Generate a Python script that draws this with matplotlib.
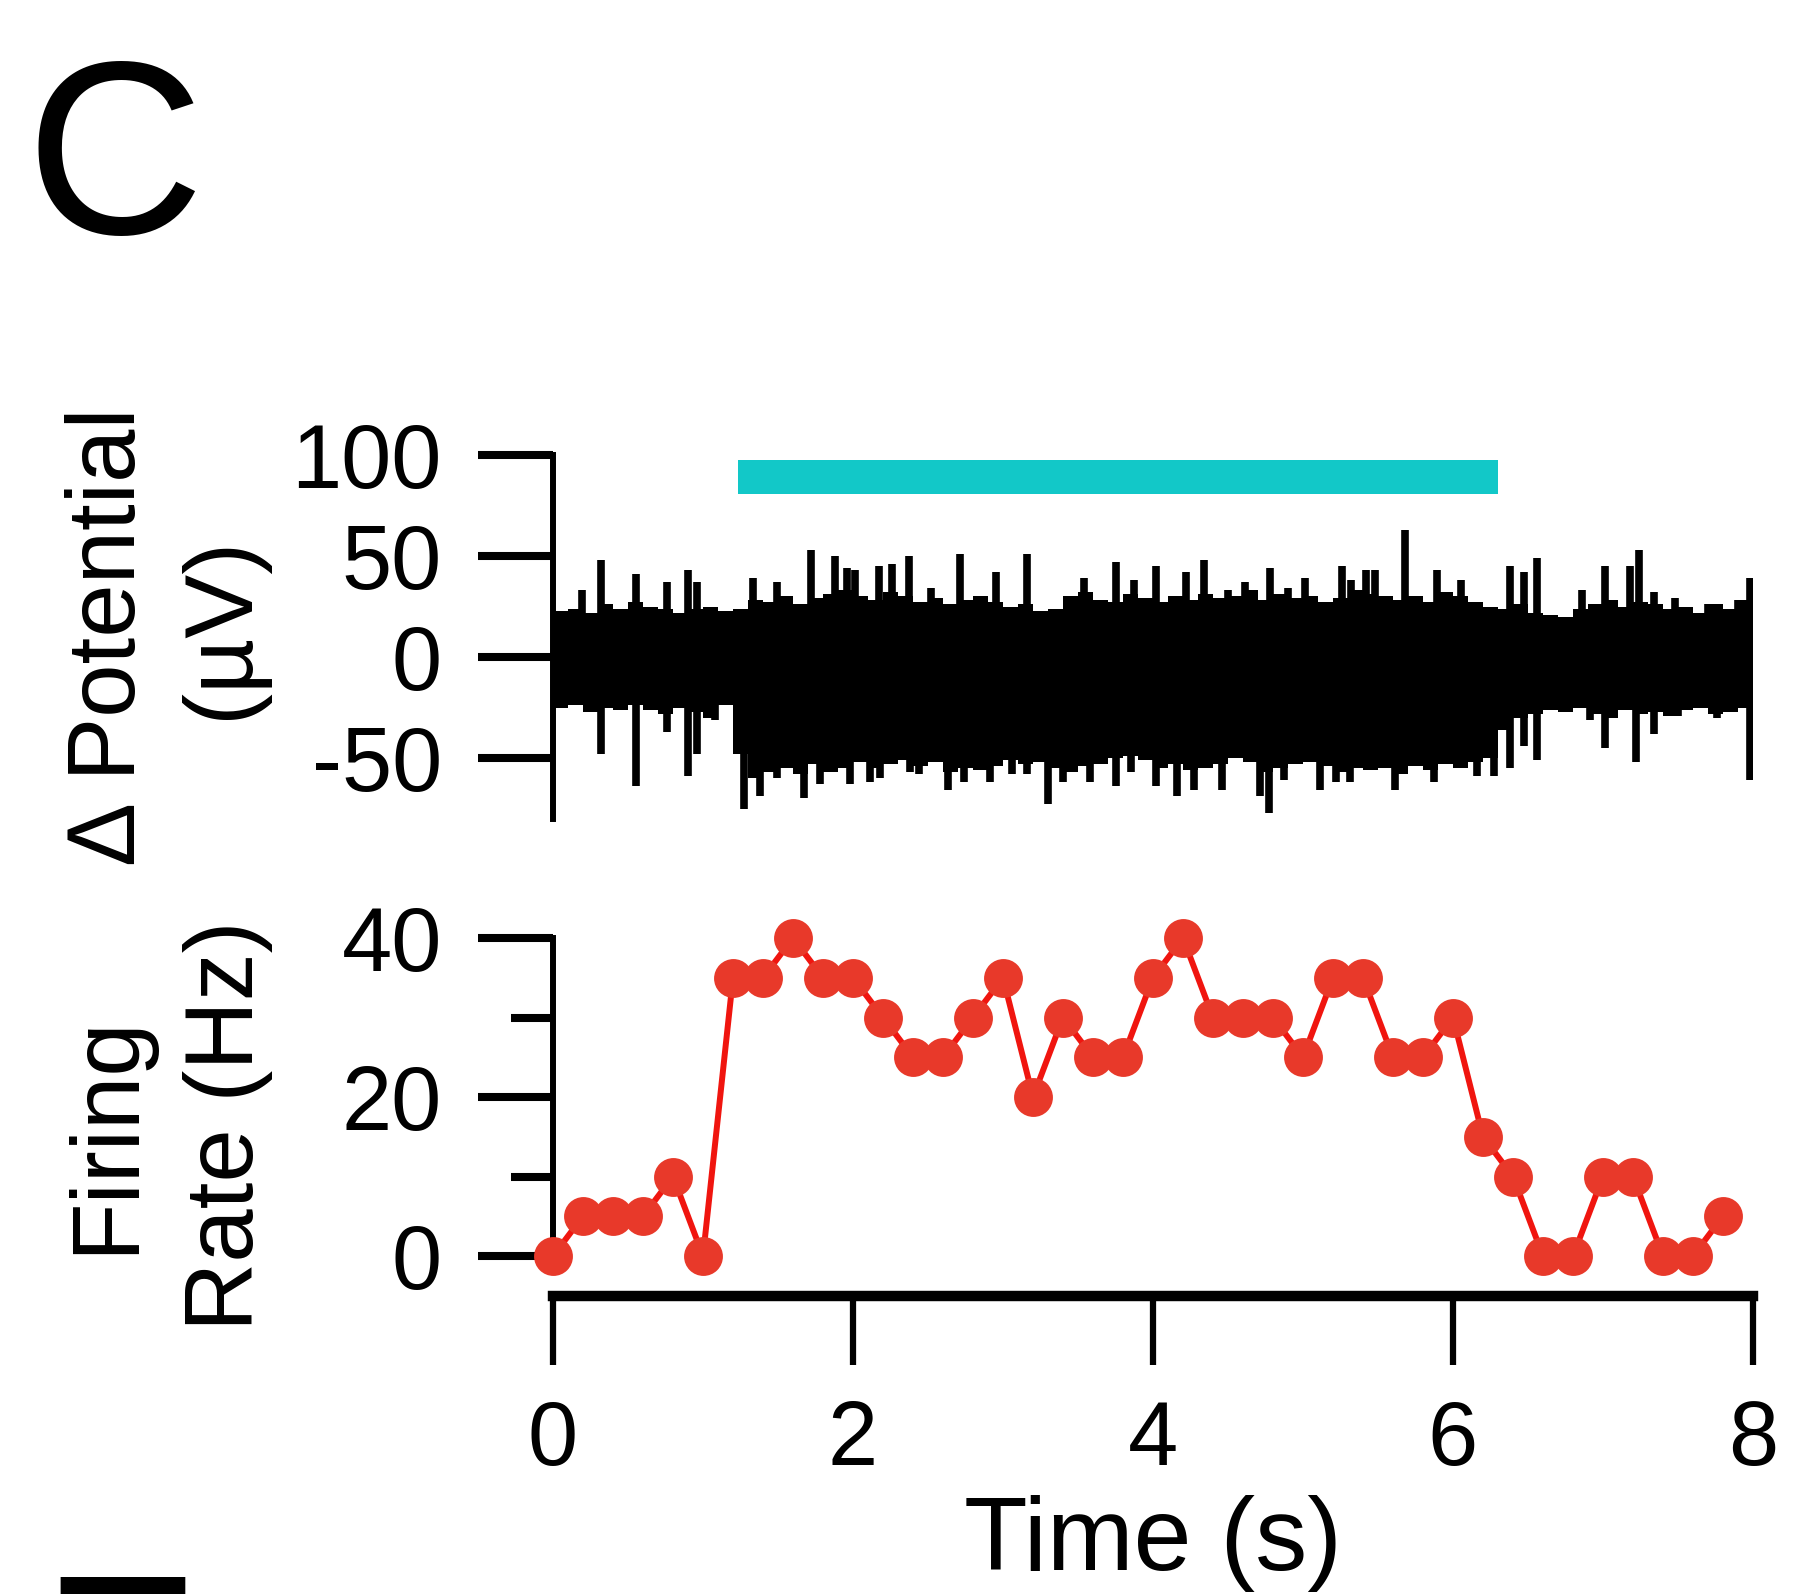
import numpy as np
import matplotlib
matplotlib.use('Agg')
import matplotlib.pyplot as plt

plt.rcParams['font.family'] = ['Liberation Sans', 'DejaVu Sans']

# ---------------- data ----------------
# Firing rate (Hz) in 0.2 s bins
rate_t = [0.0, 0.2, 0.4, 0.6, 0.8, 1.0, 1.2, 1.4, 1.6, 1.8,
          2.0, 2.2, 2.4, 2.6, 2.8, 3.0, 3.2, 3.4, 3.6, 3.8,
          4.0, 4.2, 4.4, 4.6, 4.8, 5.0, 5.2, 5.4, 5.6, 5.8,
          6.0, 6.2, 6.4, 6.6, 6.8, 7.0, 7.2, 7.4, 7.6, 7.8]
rate_hz = [0, 5, 5, 5, 10, 0, 35, 35, 40, 35,
           35, 30, 25, 25, 30, 35, 20, 30, 25, 25,
           35, 40, 30, 30, 30, 25, 35, 35, 25, 25,
           30, 15, 10, 0, 0, 10, 10, 0, 0, 5]

# Stimulus period (s)
stim_on = 1.23
stim_off = 6.30

# Potential trace: dense body envelope in 0.1 s bins (uV)
body_t = [0.0, 0.1, 0.2, 0.3, 0.4, 0.5, 0.6, 0.7, 0.8, 0.9,
          1.0, 1.1, 1.2, 1.3, 1.4, 1.5, 1.6, 1.7, 1.8, 1.9,
          2.0, 2.1, 2.2, 2.3, 2.4, 2.5, 2.6, 2.7, 2.8, 2.9,
          3.0, 3.1, 3.2, 3.3, 3.4, 3.5, 3.6, 3.7, 3.8, 3.9,
          4.0, 4.1, 4.2, 4.3, 4.4, 4.5, 4.6, 4.7, 4.8, 4.9,
          5.0, 5.1, 5.2, 5.3, 5.4, 5.5, 5.6, 5.7, 5.8, 5.9,
          6.0, 6.1, 6.2, 6.3, 6.4, 6.5, 6.6, 6.7, 6.8, 6.9,
          7.0, 7.1, 7.2, 7.3, 7.4, 7.5, 7.6, 7.7, 7.8, 7.9]
body_hi = [23, 24, 22, 26, 24, 27, 25, 24, 22, 24,
           25, 23, 24, 28, 27, 30, 26, 29, 31, 33,
           30, 28, 32, 30, 27, 29, 26, 28, 30, 27,
           25, 26, 23, 24, 30, 32, 28, 27, 31, 29,
           27, 30, 28, 31, 29, 30, 33, 28, 31, 29,
           30, 27, 29, 33, 31, 30, 28, 30, 27, 32,
           30, 27, 25, 24, 26, 22, 21, 20, 24, 26,
           28, 25, 27, 26, 24, 25, 22, 26, 24, 28]
body_lo = [-25, -24, -27, -25, -26, -24, -26, -28, -25, -27,
           -30, -24, -48, -60, -57, -55, -58, -53, -57, -55,
           -52, -55, -53, -51, -54, -52, -57, -55, -56, -54,
           -51, -53, -52, -55, -57, -54, -53, -50, -49, -51,
           -55, -53, -56, -55, -53, -50, -52, -57, -55, -53,
           -52, -54, -57, -55, -56, -55, -58, -54, -56, -53,
           -55, -52, -50, -36, -30, -28, -26, -27, -25, -28,
           -30, -26, -28, -27, -29, -26, -25, -28, -27, -25]

# Individual upward spikes (time s, peak uV)
up_t = [0.19, 0.32, 0.55, 0.76, 0.90, 0.96, 1.33, 1.49, 1.72, 1.88,
        1.96, 2.01, 2.17, 2.26, 2.37, 2.52, 2.71, 2.95, 3.16, 3.54,
        3.75, 3.87, 4.02, 4.22, 4.34, 4.50, 4.61, 4.78, 4.90, 5.01,
        5.26, 5.32, 5.42, 5.48, 5.68, 5.89, 6.05, 6.38, 6.47, 6.56,
        6.86, 7.01, 7.18, 7.24, 7.34, 7.48, 7.70, 7.90, 7.98]
up_v = [33, 48, 41, 37, 43, 37, 39, 37, 53, 50,
        44, 43, 45, 46, 50, 34, 51, 42, 51, 39,
        47, 38, 45, 42, 48, 33, 37, 44, 34, 39,
        45, 38, 43, 43, 63, 43, 38, 45, 42, 49,
        33, 45, 45, 53, 32, 29, 26, 28, 39]

# Individual downward spikes (time s, trough uV)
dn_t = [0.32, 0.55, 0.76, 0.90, 0.96, 1.08, 1.27, 1.38, 1.49, 1.67,
        1.78, 1.98, 2.11, 2.18, 2.38, 2.44, 2.63, 2.74, 2.91, 3.06,
        3.16, 3.30, 3.40, 3.58, 3.75, 3.85, 4.02, 4.16, 4.27, 4.46,
        4.71, 4.77, 4.87, 5.11, 5.22, 5.31, 5.61, 5.87, 6.16, 6.27,
        6.38, 6.47, 6.56, 6.91, 7.01, 7.22, 7.34, 7.50, 7.76, 7.98]
dn_v = [-48, -64, -37, -59, -48, -31, -75, -69, -60, -70,
        -63, -63, -62, -60, -57, -58, -66, -62, -62, -58,
        -58, -73, -62, -62, -64, -57, -64, -69, -66, -66,
        -69, -77, -61, -66, -62, -62, -66, -62, -59, -59,
        -55, -44, -51, -31, -45, -52, -38, -29, -30, -61]

pot_ticks = [-50, 0, 50, 100]
rate_major = [0, 20, 40]
rate_minor = [10, 30]
time_ticks = [0, 2, 4, 6, 8]

# ---------------- figure ----------------
W, H = 1793, 1594
fig = plt.figure(figsize=(W / 100, H / 100), dpi=100)

def fx(px):
    return px / W

def fy(py):
    return 1 - py / H

left = fx(553)
width = fx(1753) - left

ax1 = fig.add_axes([left, fy(818.6), width, fy(455) - fy(818.6)])
ax2 = fig.add_axes([left, fy(1295.75), width, fy(938) - fy(1295.75)])

tick_fs = 65
lab_fs = 69
black = 'black'

# --- top panel: potential trace ---
hi = np.array(body_hi, dtype=float)
lo = np.array(body_lo, dtype=float)
ax1.bar(body_t, hi - lo, bottom=lo, width=0.1, align='edge',
        color=black, linewidth=0)
ax1.vlines(up_t, 0, up_v, color=black, lw=5.5)
ax1.vlines(dn_t, dn_v, 0, color=black, lw=5.5)
ax1.broken_barh([(stim_on, stim_off - stim_on)], (80.5, 17),
                facecolors='#12C8C8', edgecolor='none')

ax1.set_xlim(0, 8)
ax1.set_ylim(-80, 100)
for s in ['top', 'right', 'bottom']:
    ax1.spines[s].set_visible(False)
ax1.spines['left'].set_linewidth(4.3)
ax1.spines['left'].set_bounds(-80, 100)
ax1.set_xticks([])
ax1.set_yticks(pot_ticks)
ax1.set_yticklabels([str(v) for v in pot_ticks])
ax1.tick_params(axis='y', length=54, width=5.8, labelsize=tick_fs, pad=26)

# --- bottom panel: firing rate ---
ax2.plot(rate_t, rate_hz, color='#F0150F', lw=4.3, zorder=2, clip_on=False)
ax2.plot(rate_t, rate_hz, ls='none', marker='o', ms=28,
         mfc='#E8392A', mec='none', zorder=3, clip_on=False)
ax2.set_xlim(0, 8)
ax2.set_ylim(-5, 40)
for s in ['top', 'right']:
    ax2.spines[s].set_visible(False)
ax2.spines['left'].set_linewidth(4.3)
ax2.spines['left'].set_bounds(0, 40)
ax2.spines['bottom'].set_linewidth(7.5)
ax2.spines['bottom'].set_bounds(0, 8)
ax2.set_yticks(rate_major)
ax2.set_yticklabels([str(v) for v in rate_major])
ax2.set_yticks(rate_minor, minor=True)
ax2.tick_params(axis='y', which='major', length=54, width=5.8,
                labelsize=tick_fs, pad=26)
ax2.tick_params(axis='y', which='minor', length=30, width=5.8)
ax2.set_xticks(time_ticks)
ax2.set_xticklabels([str(v) for v in time_ticks])
ax2.tick_params(axis='x', length=50, width=4.5, labelsize=tick_fs, pad=24)
ax2.set_xlabel('Time (s)', fontsize=75, labelpad=8)

# --- labels ---
def ylab(x, y, s):
    fig.text(fx(x), fy(y), s, rotation=90, ha='center', va='center',
             fontsize=lab_fs)

ylab(110, 637, 'Δ Potential')
ylab(222, 627, '(µV)')
ylab(107, 1134, 'Firing')
ylab(228, 1126, 'Rate (Hz)')

fig.text(fx(26), fy(234), 'C', fontsize=178, ha='left', va='baseline')
fig.text(fx(40), fy(1742), 'E', fontsize=172, ha='left', va='baseline')

fig.savefig('out.png', dpi=100)
